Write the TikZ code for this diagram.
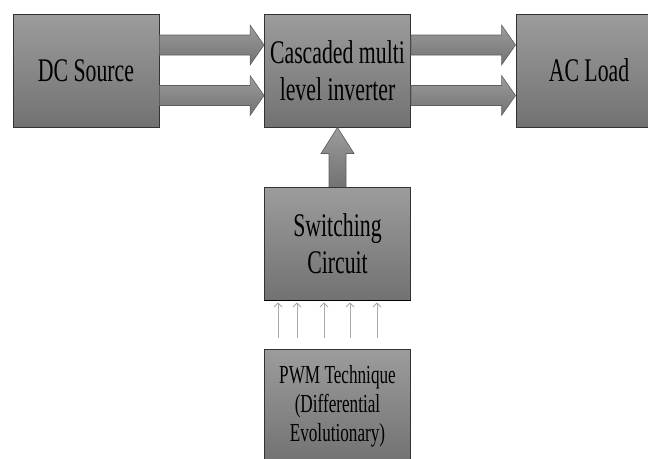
\documentclass[tikz,border=0pt]{standalone}
\usepackage{fontspec}
\setmainfont{Liberation Serif}
\usetikzlibrary{arrows.meta,calc}
\definecolor{boxtop}{HTML}{9C9C9C}
\definecolor{boxbot}{HTML}{727272}
\definecolor{boxline}{HTML}{333333}
\definecolor{arrline}{HTML}{5E5E5E}
\definecolor{thinarr}{HTML}{A8A8A8}

% narrow lettering
\newcommand\nar[1]{\scalebox{0.66}[1]{#1}}

% horizontal block arrow: #1 tail point, #2 tip point (same height)
\newcommand\hblock[2]{%
  \path[blockarrow] let \p1=(#1), \p2=(#2) in
    (\x1,\y1+10pt) -- (\x2-14pt,\y2+10pt) -- (\x2-14pt,\y2+20pt) -- (\x2,\y2)
    -- (\x2-14pt,\y2-20pt) -- (\x2-14pt,\y2-10pt) -- (\x1,\y1-10pt) -- cycle;}
% vertical block arrow pointing up: #1 tail point, #2 tip point
\newcommand\vblock[2]{%
  \path[blockarrow] let \p1=(#1), \p2=(#2) in
    (\x1-8.5pt,\y1) -- (\x2-8.5pt,\y2-26pt) -- (\x2-16.5pt,\y2-26pt) -- (\x2,\y2)
    -- (\x2+16.5pt,\y2-26pt) -- (\x2+8.5pt,\y2-26pt) -- (\x1+8.5pt,\y1) -- cycle;}

\tikzset{
  box/.style={draw=boxline, line width=0.9pt, top color=boxtop, bottom color=boxbot,
    minimum width=146pt, minimum height=113pt, inner sep=0pt, align=center,
    font=\fontsize{33}{37}\selectfont},
  smallbox/.style={box, font=\fontsize{26}{29}\selectfont},
  blockarrow/.style={draw=arrline, line width=0.6pt, top color=boxtop, bottom color=boxbot},
  ctrl/.style={draw=thinarr, line width=0.8pt, -{Straight Barb[length=4pt,width=8pt]},
    shorten <=11pt, shorten >=2pt}
}

\begin{document}
\begin{tikzpicture}[x=1pt,y=-1pt]
\useasboundingbox (0,0) rectangle (648,458);
\clip (0,0) rectangle (648,458);

% blocks
\node[box] (dc)  at (86,70.5)   {\nar{DC Source}};
\node[box] (inv) at (337.5,70.5) {\nar{Cascaded multi}\\\nar{level inverter}};
\node[box] (ac)  at (589,70.5)  {\nar{AC Load}};
\node[box] (sw)  at (337.5,243.5) {\nar{Switching}\\\nar{Circuit}};
\node[smallbox] (pwm) at (337.5,406) {\nar{PWM Technique}\\\nar{(Differential}\\\nar{Evolutionary)}};

% power flow
\hblock{dc.east |- 0,45}{inv.west |- 0,45}
\hblock{dc.east |- 0,95.5}{inv.west |- 0,95.5}
\hblock{inv.east |- 0,45}{ac.west |- 0,45}
\hblock{inv.east |- 0,95.5}{ac.west |- 0,95.5}

% gate drive
\vblock{sw.north}{inv.south}
\draw[line width=1.4pt, black] (sw.south west) -- (sw.south east);

% control signals
\foreach \xx in {278,297,324,350,377}
  \draw[ctrl] (pwm.north -| \xx,0) -- (sw.south -| \xx,0);
\end{tikzpicture}
\end{document}
